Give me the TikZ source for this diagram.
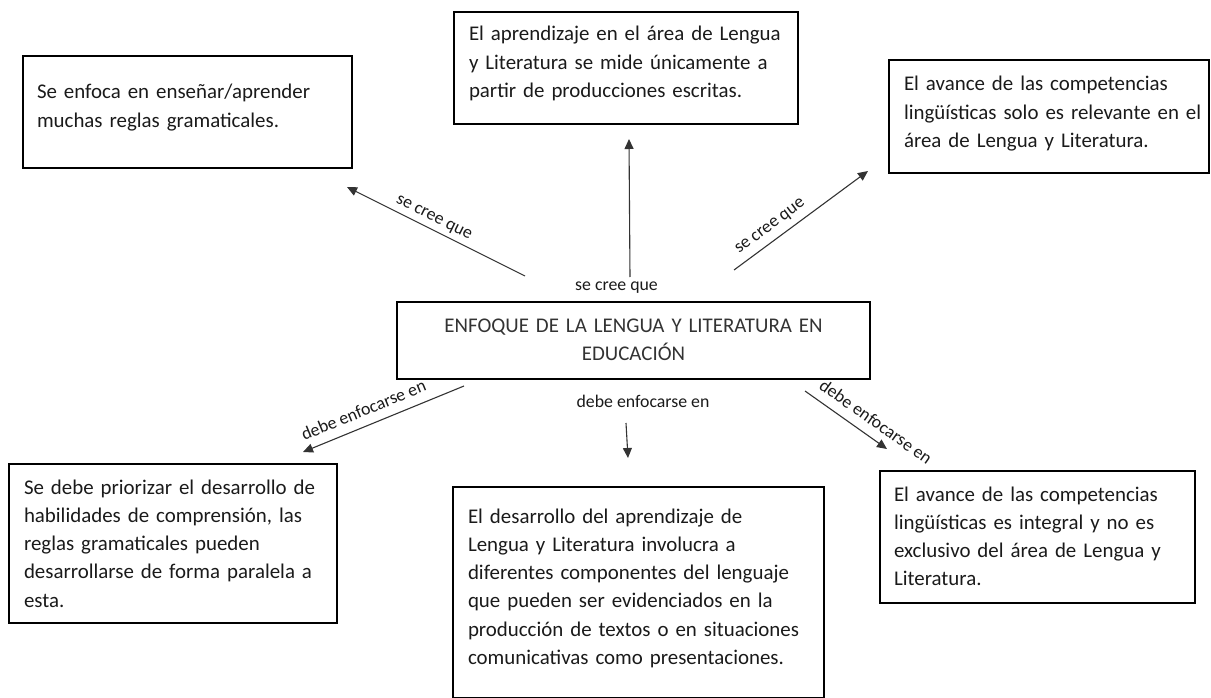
\documentclass[tikz,border=0pt]{standalone}
\usepackage{fontspec}
\setmainfont{Carlito}
\usetikzlibrary{arrows.meta}
\definecolor{linegray}{HTML}{333333}
\definecolor{txt}{HTML}{1A1A1A}
\begin{document}
\begin{tikzpicture}[x=1pt,y=-1pt,
  box/.style={draw=black, line width=2pt, anchor=north west, inner ysep=0pt,
    align=left, text=txt, font=\fontsize{20.9}{28.3}\selectfont},
  lbl/.style={font=\fontsize{17.8}{20}\selectfont, inner sep=0pt, text=txt},
  arr/.style={draw=linegray, line width=1.1pt, -{Triangle[length=10pt,width=9pt]}},
  rarr/.style={draw=linegray, line width=1.1pt, {Triangle[length=10pt,width=9pt]}-},
]
\useasboundingbox (0,0) rectangle (1211,698);

% top boxes
\node[box, inner xsep=14pt, text width=301pt, text height=43pt, text depth=69pt] (tl) at (22,55)
  {\mbox{Se enfoca en enseñar/aprender}\\\mbox{muchas reglas gramaticales.}};
\node[box, inner xsep=15pt, text width=314pt, text height=29pt, text depth=83pt] (tc) at (453,11)
  {\mbox{El aprendizaje en el área de Lengua}\\\mbox{y Literatura se mide únicamente a}\\\mbox{partir de producciones escritas.}};
\node[box, inner xsep=15pt, text width=290pt, text height=31pt, text depth=82pt] (tr) at (888,59)
  {\mbox{El avance de las competencias}\\\mbox{lingüísticas solo es relevante en el}\\\mbox{área de Lengua y Literatura.}};

% central box
\node[box, align=center, inner xsep=0pt, text width=473pt, text height=30pt, text depth=47pt, text=black!80] (c) at (396,301)
  {ENFOQUE DE LA LENGUA Y LITERATURA EN\\EDUCACIÓN};

% bottom boxes
\node[box, inner xsep=15pt, text width=298pt, text height=30pt, text depth=129pt] (bl) at (8,463)
  {\mbox{Se debe priorizar el desarrollo de}\\\mbox{habilidades de comprensión, las}\\\mbox{reglas gramaticales pueden}\\\mbox{desarrollarse de forma paralela a}\\\mbox{esta.}};
\node[box, inner xsep=15pt, text width=341pt, text height=36pt, text depth=175pt] (bc) at (452,486)
  {\mbox{El desarrollo del aprendizaje de}\\\mbox{Lengua y Literatura involucra a}\\\mbox{diferentes componentes del lenguaje}\\\mbox{que pueden ser evidenciados en la}\\\mbox{producción de textos o en situaciones}\\\mbox{comunicativas como presentaciones.}};
\node[box, inner xsep=14pt, text width=287pt, text height=30pt, text depth=102pt] (br) at (879,470)
  {\mbox{El avance de las competencias}\\\mbox{lingüísticas es integral y no es}\\\mbox{exclusivo del área de Lengua y}\\\mbox{Literatura.}};

% connector end points
\coordinate (s1) at (525,276); \coordinate (t1) at (347,187);
\coordinate (s2) at (630,277); \coordinate (t2) at (629,139);
\coordinate (s3) at (734,270); \coordinate (t3) at (868,171);
\coordinate (s4) at (464,386); \coordinate (t4) at (303,452);
\coordinate (s5) at (626,423); \coordinate (t5) at (628,458);
\coordinate (s6) at (805,391); \coordinate (t6) at (887,449);

\draw[rarr] (t1) -- (s1) node[lbl, pos=0.46, sloped, yshift=10.5pt] (l1) {se cree que};
\draw[arr] (s2) -- (t2) node[lbl, at start, anchor=base, xshift=-13.5pt, yshift=-13pt] (l2) {se cree que};
\draw[arr] (s3) -- (t3) node[lbl, pos=0.33, sloped, yshift=12.9pt] (l3) {se cree que};
\draw[rarr] (t4) -- (s4) node[lbl, pos=0.413, sloped, yshift=16pt] (l4) {debe enfocarse en};
\draw[arr] (s5) -- (t5) node[lbl, at start, xshift=17pt, yshift=22pt] (l5) {debe enfocarse en};
\draw[arr] (s6) -- (t6) node[lbl, pos=0.753, sloped, yshift=16pt] (l6) {debe enfocarse en};
\end{tikzpicture}
\end{document}
